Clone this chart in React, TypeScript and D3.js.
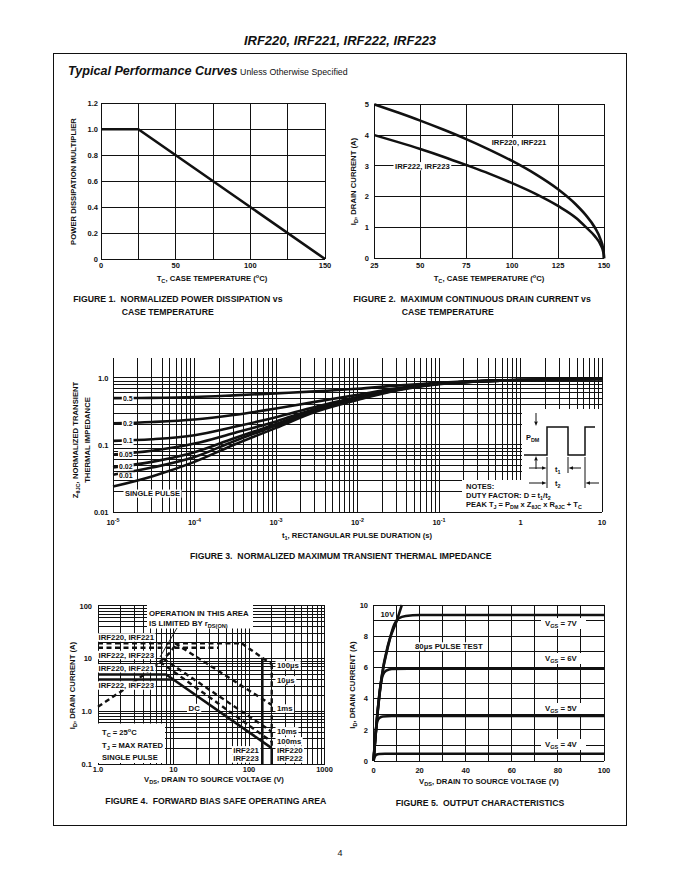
import React from 'react';
import * as d3 from 'd3';

const FONT = "'Liberation Sans', Arial, Helvetica, sans-serif";
const INK = '#111';

// ---------------- Figure 1 data ----------------
const fig1Temp = [0, 25, 150];
const fig1Mult = [1.0, 1.0, 0.0];
const fig1GridT = [0, 25, 50, 75, 100, 125, 150];
const fig1TickT = [0, 50, 100, 150];
const fig1TickM = [0, 0.2, 0.4, 0.6, 0.8, 1.0, 1.2];
const fig1TickMLabels = ['0', '0.2', '0.4', '0.6', '0.8', '1.0', '1.2'];

// ---------------- Figure 2 data ----------------
const fig2Temp = [25, 37.5, 50, 62.5, 75, 87.5, 100, 112.5, 125, 135, 140, 145, 148, 149.5, 149.9, 150];
const fig2IdIrf220 = [5.0, 4.74, 4.47, 4.18, 3.87, 3.53, 3.16, 2.74, 2.24, 1.73, 1.41, 1.0, 0.63, 0.32, 0.14, 0];
const fig2IdIrf222 = [4.0, 3.78, 3.55, 3.3, 3.03, 2.75, 2.44, 2.1, 1.7, 1.3, 1.02, 0.72, 0.46, 0.23, 0.1, 0];
const fig2TickT = [25, 50, 75, 100, 125, 150];
const fig2TickI = [0, 1, 2, 3, 4, 5];

// ---------------- Figure 3 data ----------------
const fig3Time = [1e-5, 3e-5, 1e-4, 3e-4, 1e-3, 3e-3, 1e-2, 3e-2, 1e-1, 3e-1, 1, 3, 10];
const fig3Z05 = [0.5, 0.505, 0.52, 0.55, 0.59, 0.63, 0.69, 0.77, 0.85, 0.9, 0.93, 0.95, 0.97];
const fig3Z02 = [0.21, 0.22, 0.24, 0.28, 0.35, 0.44, 0.56, 0.7, 0.83, 0.89, 0.93, 0.95, 0.97];
const fig3Z01 = [0.115, 0.122, 0.14, 0.185, 0.26, 0.37, 0.52, 0.68, 0.82, 0.89, 0.93, 0.95, 0.97];
const fig3Z005 = [0.072, 0.082, 0.105, 0.15, 0.225, 0.345, 0.5, 0.67, 0.82, 0.89, 0.93, 0.95, 0.97];
const fig3Z002 = [0.046, 0.056, 0.078, 0.125, 0.205, 0.33, 0.49, 0.66, 0.82, 0.89, 0.93, 0.95, 0.97];
const fig3Z001 = [0.036, 0.046, 0.066, 0.113, 0.195, 0.32, 0.48, 0.66, 0.82, 0.89, 0.93, 0.95, 0.97];
const fig3ZSingle = [0.024, 0.034, 0.056, 0.1, 0.18, 0.31, 0.47, 0.65, 0.81, 0.89, 0.93, 0.95, 0.97];
const fig3DutyLabels = ['0.5', '0.2', '0.1', '0.05', '0.02', '0.01'];
const fig3TickExp = ['-5', '-4', '-3', '-2', '-1', '', ''];
const fig3TickT = [1e-5, 1e-4, 1e-3, 1e-2, 1e-1, 1, 10];
const fig3TickTBase = ['10', '10', '10', '10', '10', '1', '10'];
const fig3TickZ = [0.01, 0.1, 1.0];
const fig3TickZLabels = ['0.01', '0.1', '1.0'];

// ---------------- Figure 4 data ----------------
const fig4RdsV = [1, 2, 4, 6.6, 9, 11];
const fig4RdsI = [1.22, 2.36, 4.9, 8.7, 13, 19.5];
const fig4Idm220V = [1, 80];
const fig4Idm220I = [19.5, 19.5];
const fig4Idm222V = [1, 40];
const fig4Idm222I = [16.1, 16.1];
const fig4P100usV = [80, 200];
const fig4P100usI = [19.5, 7.8];
const fig4P1msV = [10.5, 200];
const fig4P1msI = [19.5, 1.32];
const fig4P10msV = [7.3, 200];
const fig4P10msI = [10, 0.41];
const fig4P100msV = [6.6, 200];
const fig4P100msI = [8.7, 0.265];
const fig4DcV = [1, 8, 200];
const fig4DcI = [5, 5, 0.2];
const fig4Dc222V = [1, 10];
const fig4Dc222I = [4, 4];
const fig4Bv221V = [150, 150];
const fig4Bv221I = [10.4, 0.1];
const fig4Bv220DashV = [200, 200];
const fig4Bv220DashI = [7.8, 0.2];
const fig4Bv220SolidV = [200, 200];
const fig4Bv220SolidI = [0.2, 0.1];
const fig4TickV = [1, 10, 100, 1000];
const fig4TickVLabels = ['1.0', '10', '100', '1000'];
const fig4TickI = [0.1, 1, 10, 100];
const fig4TickILabels = ['0.1', '1.0', '10', '100'];

// ---------------- Figure 5 data ----------------
const fig5V10 = [0, 1.4, 3.55, 6.4, 10.1, 12.3];
const fig5I10 = [0, 2.55, 5.4, 7.5, 9.0, 10];
const fig5V7 = [0, 1.4, 3.5, 6.4, 9, 11, 14, 20, 100];
const fig5I7 = [0, 2.5, 5.3, 7.4, 8.75, 9.15, 9.3, 9.36, 9.36];
const fig5V6 = [0, 1.3, 3, 4, 5.5, 8, 15, 100];
const fig5I6 = [0, 2.4, 4.8, 5.5, 5.8, 5.9, 5.92, 5.92];
const fig5V5 = [0, 1, 1.6, 2.5, 4, 8, 100];
const fig5I5 = [0, 1.9, 2.5, 2.75, 2.85, 2.88, 2.88];
const fig5V4 = [0, 0.5, 1.2, 2.5, 5, 100];
const fig5I4 = [0, 0.25, 0.4, 0.45, 0.46, 0.46];
const fig5TickV = [0, 20, 40, 60, 80, 100];
const fig5TickI = [0, 2, 4, 6, 8, 10];

// ---------------- helpers ----------------
type Pt = [number, number];
const zip = (xs: number[], ys: number[]): Pt[] => xs.map((v, i) => [v, ys[i]] as Pt);

const CW: Record<string, number> = {
  ' ': 278, ',': 278, '.': 278, '-': 333, '(': 333, ')': 333, ':': 333, '=': 584, '/': 278, '+': 584,
  '0': 556, '1': 556, '2': 556, '3': 556, '4': 556, '5': 556, '6': 556, '7': 556, '8': 556, '9': 556,
  A: 722, B: 722, C: 722, D: 722, E: 667, F: 611, G: 778, H: 722, I: 278, J: 556, K: 722, L: 611, M: 833,
  N: 722, O: 778, P: 667, Q: 778, R: 722, S: 667, T: 611, U: 722, V: 667, W: 944, X: 667, Y: 667, Z: 611,
  s: 556, m: 889, 'µ': 611, r: 389, t: 333, x: 556, v: 556, o: 611,
};
const estW = (s: string, size: number) => {
  let w = 0;
  for (const ch of s) w += CW[ch] ?? 600;
  return (w * size) / 1000;
};

const TXT = { fontWeight: 'bold' as const, fill: INK };

function BoxText({ x, y, text, size = 7.6, anchor = 'start', pad = 1.5 }: { x: number; y: number; text: string; size?: number; anchor?: 'start' | 'middle' | 'end'; pad?: number }) {
  const w = estW(text, size);
  const left = anchor === 'start' ? x : anchor === 'end' ? x - w : x - w / 2;
  return (
    <g>
      <rect x={left - pad} y={y - size * 0.86} width={w + 2 * pad} height={size * 1.08} fill="#fff" />
      <text x={x} y={y} textAnchor={anchor} fontSize={size} {...TXT} style={{ whiteSpace: 'pre' }}>{text}</text>
    </g>
  );
}

function Arrow({ x1, y1, x2, y2, w = 1 }: { x1: number; y1: number; x2: number; y2: number; w?: number }) {
  const a = Math.atan2(y2 - y1, x2 - x1);
  const L = 4.5, H = 1.8;
  const bx = x2 - L * Math.cos(a), by = y2 - L * Math.sin(a);
  const p1 = [bx + H * Math.sin(a), by - H * Math.cos(a)];
  const p2 = [bx - H * Math.sin(a), by + H * Math.cos(a)];
  return (
    <g>
      <line x1={x1} y1={y1} x2={bx} y2={by} stroke={INK} strokeWidth={w} />
      <polygon points={`${x2},${y2} ${p1[0]},${p1[1]} ${p2[0]},${p2[1]}`} fill={INK} />
    </g>
  );
}

const logGrid = (lo: number, hi: number) => {
  const out: number[] = [];
  for (let e = lo; e < hi; e++) for (let m = 1; m < 10; m++) out.push(m * Math.pow(10, e));
  out.push(Math.pow(10, hi));
  return out;
};

const GL = { stroke: INK, strokeWidth: 1, shapeRendering: 'crispEdges' as const };

// ---------------- Figure 1 ----------------
function Fig1() {
  const x = d3.scaleLinear().domain([0, 150]).range([101, 325]);
  const y = d3.scaleLinear().domain([0, 1.2]).range([259, 103.3]);
  const line = d3.line<Pt>().x((d) => x(d[0])).y((d) => y(d[1]));
  return (
    <g>
      {fig1GridT.map((t) => <line key={'v' + t} x1={x(t)} x2={x(t)} y1={y(0)} y2={y(1.2)} {...GL} />)}
      {fig1TickM.map((m) => <line key={'h' + m} x1={x(0)} x2={x(150)} y1={y(m)} y2={y(m)} {...GL} />)}
      <path d={line(zip(fig1Temp, fig1Mult)) || ''} fill="none" stroke={INK} strokeWidth={2.6} />
      {fig1TickM.map((m, i) => (
        <text key={'yl' + m} x={98} y={y(m) + 2.7} textAnchor="end" fontSize={7.5} {...TXT}>{fig1TickMLabels[i]}</text>
      ))}
      {fig1TickT.map((t) => (
        <text key={'xl' + t} x={x(t)} y={268} textAnchor="middle" fontSize={7.5} {...TXT}>{t}</text>
      ))}
      <text transform="translate(75.7,181.5) rotate(-90)" textAnchor="middle" fontSize={7.7} {...TXT}>POWER DISSIPATION MULTIPLIER</text>
      <text x={212} y={281} textAnchor="middle" fontSize={7.7} {...TXT}>
        T<tspan dy={2} fontSize={5.6}>C</tspan><tspan dy={-2}>, CASE TEMPERATURE (</tspan><tspan dy={-3} fontSize={5.6}>o</tspan><tspan dy={3}>C)</tspan>
      </text>
      <text x={73.3} y={301.5} fontSize={8.7} {...TXT} style={{ whiteSpace: 'pre' }}>FIGURE 1.  NORMALIZED POWER DISSIPATION vs</text>
      <text x={121.7} y={314.5} fontSize={8.7} {...TXT}>CASE TEMPERATURE</text>
    </g>
  );
}

// ---------------- Figure 2 ----------------
function Fig2() {
  const x = d3.scaleLinear().domain([25, 150]).range([374.3, 604]);
  const y = d3.scaleLinear().domain([0, 5]).range([258.3, 104.3]);
  const line = d3.line<Pt>().x((d) => x(d[0])).y((d) => y(d[1])).curve(d3.curveMonotoneX);
  return (
    <g>
      {fig2TickT.map((t) => <line key={'v' + t} x1={x(t)} x2={x(t)} y1={y(0)} y2={y(5)} {...GL} />)}
      {fig2TickI.map((m) => <line key={'h' + m} x1={x(25)} x2={x(150)} y1={y(m)} y2={y(m)} {...GL} />)}
      <path d={line(zip(fig2Temp, fig2IdIrf220)) || ''} fill="none" stroke={INK} strokeWidth={2.6} />
      <path d={line(zip(fig2Temp, fig2IdIrf222)) || ''} fill="none" stroke={INK} strokeWidth={2.6} />
      <BoxText x={491.7} y={144.5} text="IRF220, IRF221" size={7.7} />
      <BoxText x={395} y={168.7} text="IRF222, IRF223" size={7.7} />
      {fig2TickI.map((m) => (
        <text key={'yl' + m} x={369} y={y(m) + 2.7} textAnchor="end" fontSize={7.5} {...TXT}>{m}</text>
      ))}
      {fig2TickT.map((t) => (
        <text key={'xl' + t} x={x(t)} y={268} textAnchor="middle" fontSize={7.5} {...TXT}>{t}</text>
      ))}
      <text transform="translate(356,181.5) rotate(-90)" textAnchor="middle" fontSize={7.7} {...TXT}>
        I<tspan dy={2} fontSize={5.6}>D</tspan><tspan dy={-2}>, DRAIN CURRENT (A)</tspan>
      </text>
      <text x={489} y={281} textAnchor="middle" fontSize={7.7} {...TXT}>
        T<tspan dy={2} fontSize={5.6}>C</tspan><tspan dy={-2}>, CASE TEMPERATURE (</tspan><tspan dy={-3} fontSize={5.6}>o</tspan><tspan dy={3}>C)</tspan>
      </text>
      <text x={353.3} y={301.5} fontSize={8.7} {...TXT} style={{ whiteSpace: 'pre' }}>FIGURE 2.  MAXIMUM CONTINUOUS DRAIN CURRENT vs</text>
      <text x={401.7} y={314.5} fontSize={8.7} {...TXT}>CASE TEMPERATURE</text>
    </g>
  );
}

// ---------------- Figure 3 ----------------
function Fig3() {
  const x = d3.scaleLog().domain([1e-5, 10]).range([113, 602]);
  const y = d3.scaleLog().domain([0.01, 2]).range([512, 357.8]);
  const line = d3.line<Pt>().x((d) => x(d[0])).y((d) => y(d[1])).curve(d3.curveMonotoneX);
  const series = [fig3Z05, fig3Z02, fig3Z01, fig3Z005, fig3Z002, fig3Z001, fig3ZSingle];
  const labelNudge = [0, 0, 0, 0, -1, 1];
  const vGrid = logGrid(-5, 1);
  const hGrid = logGrid(-2, 0);
  const top = y(2), bot = y(0.01);
  return (
    <g>
      {vGrid.map((t, i) => <line key={'v' + i} x1={x(t)} x2={x(t)} y1={top} y2={bot} {...GL} />)}
      {hGrid.map((z, i) => <line key={'h' + i} x1={x(1e-5)} x2={x(10)} y1={y(z)} y2={y(z)} {...GL} />)}
      {series.map((s, i) => (
        <path key={'s' + i} d={line(zip(fig3Time, s)) || ''} fill="none" stroke={INK} strokeWidth={2.6} />
      ))}
      {fig3DutyLabels.map((lab, i) => (
        <BoxText key={'dl' + i} x={132.5} y={y(series[i][0]) + 2.5 + labelNudge[i]} text={lab} size={6.9} anchor="end" pad={1.1} />
      ))}
      <BoxText x={125} y={496} text="SINGLE PULSE" size={7.5} />
      {/* notes / pulse inset */}
      <polygon points="522,409 602,409 602,512 462,512 462,480 522,480" fill="#fff" />
      <line x1={602} x2={602} y1={top} y2={bot} {...GL} />
      <line x1={x(1e-5)} x2={602} y1={bot} y2={bot} {...GL} />
      <polyline points="524,455 547,455 547,427 568,427 568,455 585,455 585,427 595,427" fill="none" stroke={INK} strokeWidth={1.5} />
      <Arrow x1={536} y1={413} x2={536} y2={426} />
      <Arrow x1={536} y1={469} x2={536} y2={456} />
      <text x={526} y={440} fontSize={7.4} {...TXT}>P<tspan dy={2} fontSize={5.4}>DM</tspan></text>
      <line x1={547} x2={547} y1={457} y2={488} stroke={INK} strokeWidth={1} />
      <line x1={568} x2={568} y1={457} y2={473} stroke={INK} strokeWidth={1} />
      <line x1={585} x2={585} y1={457} y2={488} stroke={INK} strokeWidth={1} />
      <Arrow x1={529} y1={468} x2={546.5} y2={468} />
      <Arrow x1={581} y1={468} x2={568.5} y2={468} />
      <Arrow x1={529} y1={483} x2={546.5} y2={483} />
      <Arrow x1={599} y1={483} x2={585.5} y2={483} />
      <text x={555} y={471.5} fontSize={7.4} {...TXT}>t<tspan dy={2} fontSize={5.4}>1</tspan></text>
      <text x={555} y={485.5} fontSize={7.4} {...TXT}>t<tspan dy={2} fontSize={5.4}>2</tspan></text>
      <text x={466} y={489} fontSize={7.5} {...TXT}>NOTES:</text>
      <text x={466} y={498} fontSize={7.5} {...TXT}>
        DUTY FACTOR: D = t<tspan dy={1.8} fontSize={5.4}>1</tspan><tspan dy={-1.8}>/t</tspan><tspan dy={1.8} fontSize={5.4}>2</tspan>
      </text>
      <text x={466} y={507} fontSize={7.5} {...TXT}>
        PEAK T<tspan dy={1.8} fontSize={5.4}>J</tspan><tspan dy={-1.8}> = P</tspan><tspan dy={1.8} fontSize={5.4}>DM</tspan>
        <tspan dy={-1.8}> x Z</tspan><tspan dy={1.8} fontSize={5.4}>θJC</tspan><tspan dy={-1.8}> x R</tspan>
        <tspan dy={1.8} fontSize={5.4}>θJC</tspan><tspan dy={-1.8}> + T</tspan><tspan dy={1.8} fontSize={5.4}>C</tspan>
      </text>
      {fig3TickZ.map((z, i) => (
        <text key={'yl' + i} x={108.5} y={y(z) + 2.7} textAnchor="end" fontSize={7.5} {...TXT}>{fig3TickZLabels[i]}</text>
      ))}
      {fig3TickT.map((t, i) => (
        <text key={'xl' + i} x={x(t)} y={525} textAnchor="middle" fontSize={7.5} {...TXT}>
          {fig3TickTBase[i]}
          {fig3TickExp[i] ? <tspan dy={-3} fontSize={5.4}>{fig3TickExp[i]}</tspan> : null}
        </text>
      ))}
      <text transform="translate(78,440) rotate(-90)" textAnchor="middle" fontSize={7.7} {...TXT}>
        Z<tspan dy={2} fontSize={5.6}>θJC</tspan><tspan dy={-2}>, NORMALIZED TRANSIENT</tspan>
      </text>
      <text transform="translate(89.5,440) rotate(-90)" textAnchor="middle" fontSize={7.7} {...TXT}>THERMAL IMPEDANCE</text>
      <text x={357} y={538} textAnchor="middle" fontSize={7.7} {...TXT}>
        t<tspan dy={2} fontSize={5.6}>1</tspan><tspan dy={-2}>, RECTANGULAR PULSE DURATION (s)</tspan>
      </text>
      <text x={340.8} y={559} textAnchor="middle" fontSize={8.7} {...TXT} style={{ whiteSpace: 'pre' }}>FIGURE 3.  NORMALIZED MAXIMUM TRANSIENT THERMAL IMPEDANCE</text>
    </g>
  );
}

// ---------------- Figure 4 ----------------
function Fig4() {
  const x = d3.scaleLog().domain([1, 1000]).range([98, 324.5]);
  const y = d3.scaleLog().domain([0.1, 100]).range([764, 605.9]);
  const line = d3.line<Pt>().x((d) => x(d[0])).y((d) => y(d[1]));
  const vGrid = logGrid(0, 3);
  const hGrid = logGrid(-1, 2);
  const dash = { fill: 'none', stroke: INK, strokeWidth: 2.4, strokeDasharray: '5 3.5' };
  const solid = { fill: 'none', stroke: INK, strokeWidth: 2.6 };
  const dashed: [number[], number[]][] = [
    [fig4RdsV, fig4RdsI], [fig4Idm220V, fig4Idm220I], [fig4Idm222V, fig4Idm222I],
    [fig4P100usV, fig4P100usI], [fig4P1msV, fig4P1msI], [fig4P10msV, fig4P10msI], [fig4P100msV, fig4P100msI],
    [fig4Bv220DashV, fig4Bv220DashI],
  ];
  const solids: [number[], number[]][] = [
    [fig4DcV, fig4DcI], [fig4Dc222V, fig4Dc222I], [fig4Bv221V, fig4Bv221I], [fig4Bv220SolidV, fig4Bv220SolidI],
  ];
  return (
    <g>
      {vGrid.map((v, i) => <line key={'v' + i} x1={x(v)} x2={x(v)} y1={y(100)} y2={y(0.1)} {...GL} />)}
      {hGrid.map((v, i) => <line key={'h' + i} x1={x(1)} x2={x(1000)} y1={y(v)} y2={y(v)} {...GL} />)}
      {dashed.map((d, i) => <path key={'d' + i} d={line(zip(d[0], d[1])) || ''} {...dash} />)}
      {solids.map((d, i) => <path key={'s' + i} d={line(zip(d[0], d[1])) || ''} {...solid} />)}
      {/* label boxes */}
      <rect x={147} y={605} width={106} height={23.5} fill="#fff" />
      <text x={149} y={615.5} fontSize={7.8} {...TXT}>OPERATION IN THIS AREA</text>
      <text x={149} y={626} fontSize={7.8} {...TXT}>
        IS LIMITED BY r<tspan dy={2} fontSize={5.6}>DS(ON)</tspan>
      </text>
      <line x1={177} y1={628} x2={160} y2={657} stroke={INK} strokeWidth={0.9} />
      <BoxText x={98.5} y={640} text="IRF220, IRF221" size={7.8} />
      <BoxText x={98.5} y={657.5} text="IRF222, IRF223" size={7.8} />
      <BoxText x={98.5} y={670.8} text="IRF220, IRF221" size={7.8} />
      <BoxText x={98.5} y={688} text="IRF222, IRF223" size={7.8} />
      <BoxText x={188.5} y={710.5} text="DC" size={7.8} />
      <rect x={97} y={723.5} width={68} height={39.5} fill="#fff" />
      <text x={102} y={735} fontSize={7.6} {...TXT}>
        T<tspan dy={2} fontSize={5.6}>C</tspan><tspan dy={-2}> = 25</tspan><tspan dy={-3} fontSize={5.6}>o</tspan><tspan dy={3}>C</tspan>
      </text>
      <text x={102} y={747.5} fontSize={7.6} {...TXT}>
        T<tspan dy={2} fontSize={5.6}>J</tspan><tspan dy={-2}> = MAX RATED</tspan>
      </text>
      <text x={102} y={760} fontSize={7.6} {...TXT}>SINGLE PULSE</text>
      <BoxText x={277} y={667.8} text="100µs" size={7.8} />
      <BoxText x={277} y={682.8} text="10µs" size={7.8} />
      <BoxText x={277} y={711} text="1ms" size={7.8} />
      <BoxText x={277} y={733.8} text="10ms" size={7.8} />
      <BoxText x={277} y={743.8} text="100ms" size={7.8} />
      <BoxText x={277} y={752.8} text="IRF220" size={7.8} />
      <BoxText x={277} y={761} text="IRF222" size={7.8} />
      <BoxText x={233.3} y={752.8} text="IRF221" size={7.8} />
      <BoxText x={233.3} y={761} text="IRF223" size={7.8} />
      {fig4TickI.map((v, i) => (
        <text key={'yl' + i} x={92} y={y(v) + 2.7} textAnchor="end" fontSize={7.5} {...TXT}>{fig4TickILabels[i]}</text>
      ))}
      {fig4TickV.map((v, i) => (
        <text key={'xl' + i} x={x(v)} y={771.5} textAnchor="middle" fontSize={7.5} {...TXT}>{fig4TickVLabels[i]}</text>
      ))}
      <text transform="translate(74.5,685.5) rotate(-90)" textAnchor="middle" fontSize={7.7} {...TXT}>
        I<tspan dy={2} fontSize={5.6}>D</tspan><tspan dy={-2}>, DRAIN CURRENT (A)</tspan>
      </text>
      <text x={214} y={782} textAnchor="middle" fontSize={7.7} {...TXT}>
        V<tspan dy={2} fontSize={5.6}>DS</tspan><tspan dy={-2}>, DRAIN TO SOURCE VOLTAGE (V)</tspan>
      </text>
      <text x={215.8} y={804} textAnchor="middle" fontSize={8.7} {...TXT} style={{ whiteSpace: 'pre' }}>FIGURE 4.  FORWARD BIAS SAFE OPERATING AREA</text>
    </g>
  );
}

// ---------------- Figure 5 ----------------
function Fig5() {
  const x = d3.scaleLinear().domain([0, 100]).range([373.5, 604]);
  const y = d3.scaleLinear().domain([0, 10]).range([761, 605]);
  const line = d3.line<Pt>().x((d) => x(d[0])).y((d) => y(d[1])).curve(d3.curveMonotoneX);
  const vGrid = d3.range(0, 101, 10);
  const hGrid = d3.range(0, 11, 1);
  const curves: [number[], number[]][] = [
    [fig5V7, fig5I7], [fig5V6, fig5I6], [fig5V5, fig5I5], [fig5V4, fig5I4], [fig5V10, fig5I10],
  ];
  const vgsLabel = (yb: number, v: string) => (
    <g>
      <rect x={541} y={yb - 8} width={45} height={11} fill="#fff" />
      <text x={545} y={yb} fontSize={7.8} {...TXT}>
        V<tspan dy={2} fontSize={5.6}>GS</tspan><tspan dy={-2}>{` = ${v}`}</tspan>
      </text>
    </g>
  );
  return (
    <g>
      {vGrid.map((v) => <line key={'v' + v} x1={x(v)} x2={x(v)} y1={y(0)} y2={y(10)} {...GL} />)}
      {hGrid.map((v) => <line key={'h' + v} x1={x(0)} x2={x(100)} y1={y(v)} y2={y(v)} {...GL} />)}
      <BoxText x={415} y={649} text="80µs PULSE TEST" size={7.8} />
      {curves.map((c, i) => <path key={'c' + i} d={line(zip(c[0], c[1])) || ''} fill="none" stroke={INK} strokeWidth={2.6} />)}
      <BoxText x={380.5} y={617} text="10V" size={7.8} />
      {vgsLabel(626, '7V')}
      {vgsLabel(661, '6V')}
      {vgsLabel(711, '5V')}
      {vgsLabel(747, '4V')}
      {fig5TickI.map((v) => (
        <text key={'yl' + v} x={368} y={y(v) + 2.7} textAnchor="end" fontSize={7.5} {...TXT}>{v}</text>
      ))}
      {fig5TickV.map((v) => (
        <text key={'xl' + v} x={x(v)} y={773} textAnchor="middle" fontSize={7.5} {...TXT}>{v}</text>
      ))}
      <text transform="translate(354.5,685) rotate(-90)" textAnchor="middle" fontSize={7.7} {...TXT}>
        I<tspan dy={2} fontSize={5.6}>D</tspan><tspan dy={-2}>, DRAIN CURRENT (A)</tspan>
      </text>
      <text x={489} y={784} textAnchor="middle" fontSize={7.7} {...TXT}>
        V<tspan dy={2} fontSize={5.6}>DS</tspan><tspan dy={-2}>, DRAIN TO SOURCE VOLTAGE (V)</tspan>
      </text>
      <text x={480} y={806} textAnchor="middle" fontSize={8.7} {...TXT} style={{ whiteSpace: 'pre' }}>FIGURE 5.  OUTPUT CHARACTERISTICS</text>
    </g>
  );
}

export default function App() {
  return (
    <svg
      width={680}
      height={880}
      viewBox="0 0 680 880"
      style={{ position: 'absolute', left: 0, top: 0, background: '#fff' }}
      fontFamily={FONT}
    >
      <rect width={680} height={880} fill="#fff" />
      <text x={340} y={45} textAnchor="middle" fontSize={13} fontWeight="bold" fontStyle="italic" fill={INK}>
        IRF220, IRF221, IRF222, IRF223
      </text>
      <rect x={53} y={53} width={573} height={772} fill="none" stroke={INK} strokeWidth={1} shapeRendering="crispEdges" />
      <text x={68} y={75} fontSize={12.6} fontWeight="bold" fontStyle="italic" fill={INK}>
        Typical Performance Curves
        <tspan fontSize={8.8} fontWeight="normal" fontStyle="normal"> Unless Otherwise Specified</tspan>
      </text>
      <Fig1 />
      <Fig2 />
      <Fig3 />
      <Fig4 />
      <Fig5 />
      <text x={340} y={856} textAnchor="middle" fontSize={9} fill={INK}>4</text>
    </svg>
  );
}
